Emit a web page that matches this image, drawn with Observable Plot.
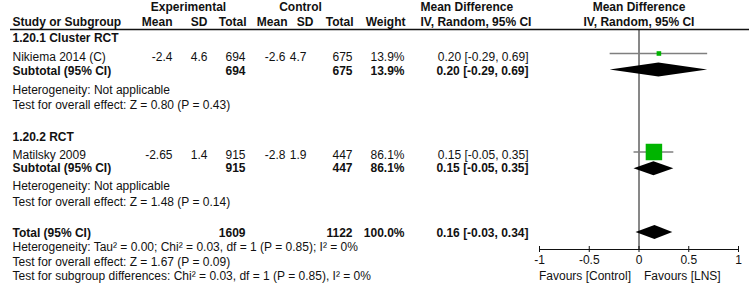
<!DOCTYPE html>
<html>
<head>
<meta charset="utf-8">
<script src="https://cdn.jsdelivr.net/npm/d3@7"></script>
<script src="https://cdn.jsdelivr.net/npm/@observablehq/plot@0.6"></script>
<style>
  html, body { margin: 0; padding: 0; background: #fff; }
  #chart svg { display: block; }
</style>
</head>
<body>
<div id="chart"></div>
<script>
// ---------------- data ----------------
const groups = ["1.20.1 Cluster RCT", "1.20.2 RCT"];
const studies = ["Nikiema 2014 (C)", "Matilsky 2009"];
const expMean = ["-2.4", "-2.65"];
const expSD = ["4.6", "1.4"];
const expN = ["694", "915"];
const ctrlMean = ["-2.6", "-2.8"];
const ctrlSD = ["4.7", "1.9"];
const ctrlN = ["675", "447"];
const weights = [13.9, 86.1];
const md = [0.20, 0.15];
const lo = [-0.29, -0.05];
const hi = [0.69, 0.35];
const subLabel = "Subtotal (95% CI)";
const hetTexts = ["Heterogeneity: Not applicable", "Heterogeneity: Not applicable"];
const effectTexts = ["Test for overall effect: Z = 0.80 (P = 0.43)", "Test for overall effect: Z = 1.48 (P = 0.14)"];
const totalLabel = "Total (95% CI)";
const totalN = ["1609", "1122"];
const totalWeight = 100.0;
const totalMD = 0.16, totalLo = -0.03, totalHi = 0.34;
const footTexts = [
  "Heterogeneity: Tau² = 0.00; Chi² = 0.03, df = 1 (P = 0.85); I² = 0%",
  "Test for overall effect: Z = 1.67 (P = 0.09)",
  "Test for subgroup differences: Chi² = 0.03, df = 1 (P = 0.85), I² = 0%"
];
const tickValues = [-1, -0.5, 0, 0.5, 1];
const tickLabels = ["-1", "-0.5", "0", "0.5", "1"];
const favours = ["Favours [Control]", "Favours [LNS]"];

// ---------------- layout (row positions in the vertical scale) ----------------
const ROW = {
  hdr1: 7, hdr2: 21.5, line: 29,
  group: [37.5, 136.5], study: [57, 154.5], sub: [70.5, 167.5], het: [89.5, 186], eff: [104.5, 201.5],
  ci: [53, 151.5], dia: [69.5, 168.3],
  total: 233, totDia: 232, foot: [247, 261.5, 276],
  axis: 249, tickLab: 260, fav: 275.5
};
const FS = 12;
const fmtCI = (m, l, h) => `${m.toFixed(2)} [${l.toFixed(2)}, ${h.toFixed(2)}]`;
const fmtW = w => w.toFixed(1) + "%";

// table rows
const rows = [];
studies.forEach((s, i) => {
  rows.push({y: ROW.group[i], label: groups[i], bold: true});
  rows.push({y: ROW.study[i], label: s, bold: false,
    em: expMean[i], esd: expSD[i], en: expN[i], cm: ctrlMean[i], csd: ctrlSD[i], cn: ctrlN[i],
    w: fmtW(weights[i]), ci: fmtCI(md[i], lo[i], hi[i])});
  rows.push({y: ROW.sub[i], label: subLabel, bold: true,
    en: expN[i], cn: ctrlN[i], w: fmtW(weights[i]), ci: fmtCI(md[i], lo[i], hi[i])});
  rows.push({y: ROW.het[i], label: hetTexts[i], bold: false});
  rows.push({y: ROW.eff[i], label: effectTexts[i], bold: false});
});
rows.push({y: ROW.total, label: totalLabel, bold: true,
  en: totalN[0], cn: totalN[1], w: fmtW(totalWeight), ci: fmtCI(totalMD, totalLo, totalHi)});
footTexts.forEach((t, i) => rows.push({y: ROW.foot[i], label: t, bold: false}));

const plain = rows.filter(d => !d.bold);
const bold = rows.filter(d => d.bold);

// forest marks
const studyPts = studies.map((s, i) => ({y: ROW.ci[i], md: md[i], lo: lo[i], hi: hi[i], w: weights[i]}));
const diamonds = [];
const H = 7;
md.forEach((m, i) => {
  const y = ROW.dia[i];
  diamonds.push({id: i, x: lo[i], y1: y, y2: y}, {id: i, x: m, y1: y - H, y2: y + H}, {id: i, x: hi[i], y1: y, y2: y});
});
{
  const y = ROW.totDia;
  diamonds.push({id: 9, x: totalLo, y1: y, y2: y}, {id: 9, x: totalMD, y1: y - H, y2: y + H}, {id: 9, x: totalHi, y1: y, y2: y});
}

// header cells
const headers = [
  {t: "Experimental", x: 188, a: "middle", y: ROW.hdr1},
  {t: "Control", x: 300, a: "middle", y: ROW.hdr1},
  {t: "Mean Difference", x: 420, a: "start", y: ROW.hdr1},
  {t: "Study or Subgroup", x: 12, a: "start", y: ROW.hdr2},
  {t: "Mean", x: 172, a: "end", y: ROW.hdr2},
  {t: "SD", x: 207, a: "end", y: ROW.hdr2},
  {t: "Total", x: 246, a: "end", y: ROW.hdr2},
  {t: "Mean", x: 287, a: "end", y: ROW.hdr2},
  {t: "SD", x: 313, a: "end", y: ROW.hdr2},
  {t: "Total", x: 353, a: "end", y: ROW.hdr2},
  {t: "Weight", x: 405, a: "end", y: ROW.hdr2},
  {t: "IV, Random, 95% CI", x: 420, a: "start", y: ROW.hdr2}
];

const FONT = "'Liberation Sans', Arial, sans-serif";
const INK = "#111";
const txt = (data, field, dx, anchor, weight) => Plot.text(data.filter(d => d[field] !== undefined), {
  y: "y", text: field, frameAnchor: "left", dx, textAnchor: anchor, fontWeight: weight, fill: INK, fontSize: FS
});
const colMarks = (data, weight) => [
  txt(data, "label", 12, "start", weight),
  txt(data, "em", 172, "end", weight),
  txt(data, "esd", 207, "end", weight),
  txt(data, "en", 245, "end", weight),
  txt(data, "cm", 285, "end", weight),
  txt(data, "csd", 306, "end", weight),
  txt(data, "cn", 352, "end", weight),
  txt(data, "w", 404, "end", weight),
  txt(data, "ci", 528, "end", weight)
];

const chart = Plot.plot({
  width: 749, height: 292,
  marginLeft: 0, marginRight: 0, marginTop: 0, marginBottom: 0,
  style: {fontFamily: FONT, fontSize: "12px", background: "#fff", color: INK, overflow: "visible"},
  x: {domain: [-1, 1], range: [539, 738], axis: null},
  y: {type: "linear", domain: [0, 292], range: [0, 292], axis: null},
  r: {type: "pow", exponent: 0.7, domain: [0, 86.1], range: [0, 9.3]},
  marks: [
    ...headers.map(h => Plot.text([h], {y: "y", text: "t", frameAnchor: "left", dx: h.x, textAnchor: h.a, fontWeight: "bold", fill: INK, fontSize: FS})),
    Plot.text(["Mean Difference"], {x: 0, y: ROW.hdr1, text: d => d, fontWeight: "bold", fill: INK, fontSize: FS}),
    Plot.text(["IV, Random, 95% CI"], {x: 0, y: ROW.hdr2, text: d => d, fontWeight: "bold", fill: INK, fontSize: FS}),
    Plot.ruleY([ROW.line], {insetLeft: 10, stroke: INK, strokeWidth: 1.3}),
    ...colMarks(plain, "normal"),
    ...colMarks(bold, "bold"),
    Plot.ruleX([0], {y1: ROW.line, y2: ROW.axis, stroke: INK, strokeWidth: 1}),
    Plot.ruleY(studyPts, {x1: "lo", x2: "hi", y: "y", stroke: "#7f7f7f", strokeWidth: 1.3}),
    Plot.dot(studyPts, {x: "md", y: "y", r: "w", symbol: "square", fill: "#00b400", stroke: "none"}),
    Plot.areaY(diamonds, {x: "x", y1: "y1", y2: "y2", z: "id", fill: "#000", curve: "linear"}),
    Plot.ruleY([ROW.axis], {x1: tickValues[0], x2: tickValues[tickValues.length - 1], stroke: INK, strokeWidth: 1}),
    Plot.ruleX(tickValues, {y1: ROW.axis - 3, y2: ROW.axis + 3, stroke: INK, strokeWidth: 1}),
    Plot.text(tickValues, {x: d => d, y: ROW.tickLab, text: (d, i) => tickLabels[i], fill: INK, fontSize: FS}),
    Plot.text([favours[0]], {x: 0, y: ROW.fav, text: d => d, textAnchor: "end", dx: -8, fill: INK, fontSize: FS}),
    Plot.text([favours[1]], {x: 0, y: ROW.fav, text: d => d, textAnchor: "start", dx: 5, fill: INK, fontSize: FS})
  ]
});
document.getElementById("chart").append(chart);
</script>
</body>
</html>
